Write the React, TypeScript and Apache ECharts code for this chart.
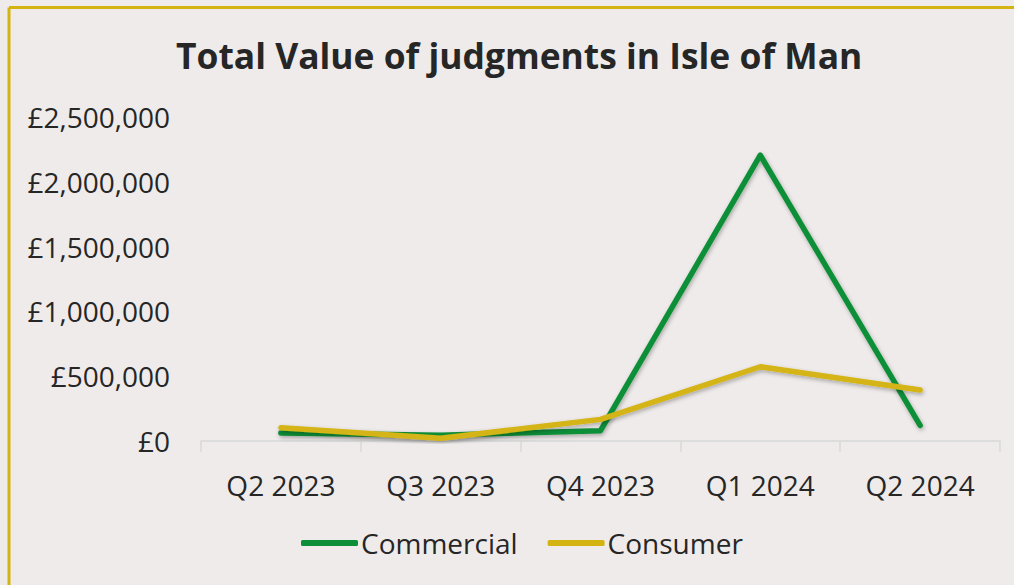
import React, { useEffect, useRef } from "react";
import * as echarts from "echarts";

const categories = ["Q2 2023", "Q3 2023", "Q4 2023", "Q1 2024", "Q2 2024"];
const commercial = [62000, 45000, 80000, 2205000, 120000];
const consumer = [103000, 21000, 167000, 573000, 393000];
const yTicks = { min: 0, max: 2500000, interval: 500000 };

const FONT = "'Open Sans', 'Noto Sans', sans-serif";

export default function App() {
  const ref = useRef<HTMLDivElement>(null);
  useEffect(() => {
    if (!ref.current) return;
    const chart = echarts.init(ref.current, null, { renderer: "svg" });
    const shadow = { shadowBlur: 4, shadowColor: "rgba(0,0,0,0.3)", shadowOffsetY: 2, shadowOffsetX: 1 };
    chart.setOption({
      animation: false,
      backgroundColor: "#EEEBEA",
      textStyle: { fontFamily: FONT },
      title: {
        text: "Total Value of judgments in Isle of Man",
        left: 171,
        top: 32,
        textStyle: { fontFamily: FONT, fontWeight: "bold", fontSize: 35.4, color: "#262626" },
      },
      graphic: [
        { type: "line", shape: { x1: 9, y1: 7.5, x2: 1014, y2: 7.5 }, style: { stroke: "#D4B413", lineWidth: 3 } },
        { type: "line", shape: { x1: 9, y1: 7.5, x2: 9, y2: 585 }, style: { stroke: "#D4B413", lineWidth: 3 } },
      ],
      legend: {
        bottom: 23,
        left: 296,
        itemWidth: 57,
        itemHeight: 6,
        itemGap: 30,
        icon: "roundRect",
        textStyle: { fontFamily: FONT, fontSize: 28, color: "#262626", padding: [0, 0, 0, -2] },
        data: ["Commercial", "Consumer"],
      },
      grid: { left: 201, right: 14, top: 117, bottom: 144 },
      xAxis: {
        type: "category",
        data: categories,
        boundaryGap: true,
        axisLine: { lineStyle: { color: "#D9D9D9", width: 1.5 } },
        axisTick: { show: true, length: 11, lineStyle: { color: "#D9D9D9", width: 1.5 } },
        axisLabel: { fontFamily: FONT, fontSize: 28, color: "#262626", margin: 30 },
      },
      yAxis: {
        type: "value",
        min: yTicks.min,
        max: yTicks.max,
        interval: yTicks.interval,
        splitLine: { show: false },
        axisLine: { show: false },
        axisTick: { show: false },
        axisLabel: {
          fontFamily: FONT,
          fontSize: 28,
          color: "#262626",
          margin: 31,
          formatter: (v: number) => "£" + v.toLocaleString("en-GB"),
        },
      },
      series: [
        {
          name: "Commercial",
          type: "line",
          data: commercial,
          showSymbol: false,
          symbol: "none",
          itemStyle: { color: "#0C8F38" },
          lineStyle: { color: "#0C8F38", width: 5.5, cap: "round", join: "round", ...shadow },
        },
        {
          name: "Consumer",
          type: "line",
          data: consumer,
          showSymbol: false,
          symbol: "none",
          itemStyle: { color: "#D4B413" },
          lineStyle: { color: "#D4B413", width: 5.5, cap: "round", join: "round", ...shadow },
        },
      ],
    });
    return () => chart.dispose();
  }, []);
  return (
    <div
      ref={ref}
      style={{ position: "absolute", left: 0, top: 0, width: 1014, height: 585 }}
    />
  );
}
